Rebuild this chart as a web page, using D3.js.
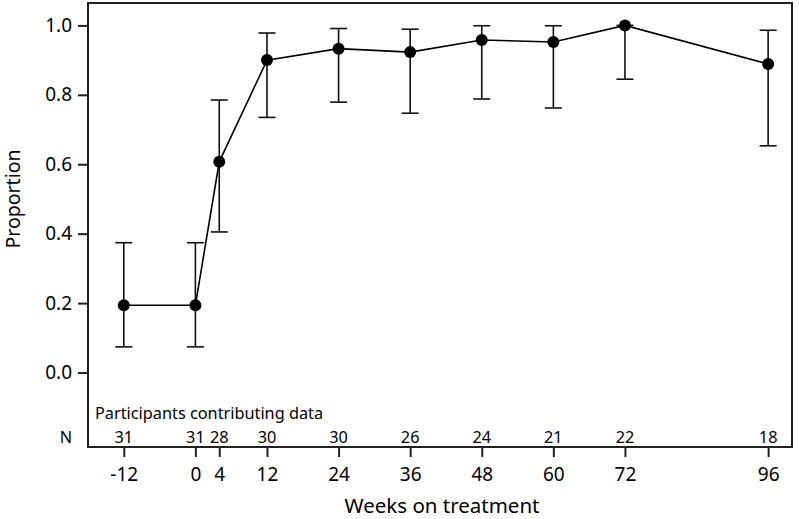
<!DOCTYPE html>
<html><head><meta charset="utf-8">
<script src="https://cdn.jsdelivr.net/npm/d3@7"></script>
<style>body{margin:0;background:#fff}svg{display:block}text{font-family:"Noto Sans","Open Sans",sans-serif;fill:#000}</style>
</head><body><svg id="c" width="799" height="519"></svg>
<script>
const weeks = [-12, 0, 4, 12, 24, 36, 48, 60, 72, 96];
const proportion = [0.194, 0.194, 0.607, 0.900, 0.933, 0.923, 0.958, 0.952, 1.000, 0.889];
const lower = [0.074, 0.074, 0.405, 0.735, 0.779, 0.747, 0.788, 0.762, 0.845, 0.653];
const upper = [0.374, 0.374, 0.785, 0.978, 0.991, 0.989, 0.999, 0.999, 1.000, 0.986];
const nCounts = [31, 31, 28, 30, 30, 26, 24, 21, 22, 18];
const yTicks = [0.0, 0.2, 0.4, 0.6, 0.8, 1.0];
const xTicks = weeks;

const svg = d3.select("#c");
const L = 88, R = 792, T = 3, B = 447;
const x = d3.scaleLinear().domain([-18, 100]).range([L, R]);
const y = d3.scaleLinear().domain([-0.2145, 1.0645]).range([B, T]);
const data = weeks.map((w, i) => ({w, p: proportion[i], lo: lower[i], hi: upper[i], n: nCounts[i]}));

// Y axis
const yAxis = svg.append("g").attr("transform", `translate(${L},0)`)
  .call(d3.axisLeft(y).tickValues(yTicks).tickFormat(d3.format(".1f")).tickSize(10).tickPadding(6));
yAxis.select(".domain").remove();
yAxis.selectAll("line").attr("stroke", "#222").attr("stroke-width", 2);
yAxis.selectAll("text").attr("font-size", 19).attr("font-family", "Noto Sans").attr("fill", "#111");

// X axis
const xAxis = svg.append("g").attr("transform", `translate(0,${B})`)
  .call(d3.axisBottom(x).tickValues(xTicks).tickFormat(d => String(d)).tickSize(10).tickPadding(11));
xAxis.select(".domain").remove();
xAxis.selectAll("line").attr("stroke", "#222").attr("stroke-width", 2);
xAxis.selectAll("text").attr("font-size", 19).attr("font-family", "Noto Sans").attr("fill", "#111");

// Frame
svg.append("rect").attr("x", L).attr("y", T).attr("width", R - L).attr("height", B - T)
  .attr("fill", "none").attr("stroke", "#222").attr("stroke-width", 2);

// Error bars
const cap = 8.5;
const eb = svg.append("g").attr("stroke", "#111").attr("stroke-width", 1.6).attr("fill", "none");
data.forEach(d => {
  eb.append("line").attr("x1", x(d.w)).attr("x2", x(d.w)).attr("y1", y(d.lo)).attr("y2", y(d.hi));
  eb.append("line").attr("x1", x(d.w) - cap).attr("x2", x(d.w) + cap).attr("y1", y(d.lo)).attr("y2", y(d.lo));
  eb.append("line").attr("x1", x(d.w) - cap).attr("x2", x(d.w) + cap).attr("y1", y(d.hi)).attr("y2", y(d.hi));
});

// Line
svg.append("path").datum(data)
  .attr("d", d3.line().x(d => x(d.w)).y(d => y(d.p)))
  .attr("fill", "none").attr("stroke", "#000").attr("stroke-width", 1.6);

// Points
svg.append("g").selectAll("circle").data(data).join("circle")
  .attr("cx", d => x(d.w)).attr("cy", d => y(d.p)).attr("r", 6).attr("fill", "#000");

// N row
svg.append("text").attr("x", 95).attr("y", 419).attr("font-size", 16.3).text("Participants contributing data");
svg.append("text").attr("x", 72).attr("y", 443).attr("font-size", 16.3).attr("text-anchor", "end").text("N");
svg.append("g").selectAll("text").data(data).join("text")
  .attr("x", d => x(d.w)).attr("y", 443).attr("font-size", 16.3).attr("text-anchor", "middle")
  .text(d => d.n);

// Titles
svg.append("text").attr("x", 442).attr("y", 513).attr("font-size", 20.5).attr("text-anchor", "middle").text("Weeks on treatment");
svg.append("text").attr("transform", `translate(20,${(y(0) + y(1)) / 2}) rotate(-90)`)
  .attr("font-size", 19.5).attr("text-anchor", "middle").text("Proportion");
</script></body></html>
